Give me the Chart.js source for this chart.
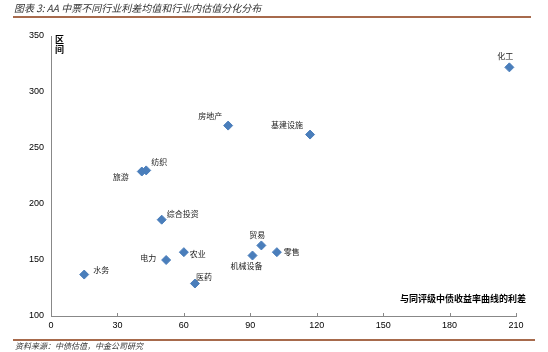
<!DOCTYPE html>
<html>
<head>
<meta charset="utf-8">
<script src="https://cdn.jsdelivr.net/npm/chart.js@4/dist/chart.umd.min.js"></script>
<style>
  html, body { margin: 0; padding: 0; background: #fff; }
  #wrap { width: 548px; height: 352px; position: relative; }
</style>
</head>
<body>
<div id="wrap"><canvas id="c" width="548" height="352"></canvas></div>
<script>
// industries and their values (x: spread vs same-rating curve, y: dispersion range)
const industries = ['水务', '旅游', '纺织', '房地产', '综合投资', '农业', '电力', '医药', '贸易', '机械设备', '基建设施', '零售', '化工'];
const spreadMean = [15, 41, 43, 80, 50, 60, 52, 65, 95, 91, 117, 102, 207];
const spreadRange = [137, 229, 230, 270, 186, 157, 150, 129, 163, 154, 262, 157, 322];

const xTicks = [0, 30, 60, 90, 120, 150, 180, 210];
const yTicks = [100, 150, 200, 250, 300, 350];

// where each label sits relative to its marker (px)
const labelOffsets = [
  [17, -5], [-21, 5], [13, -8], [-18, -10], [21, -6], [14, 2],
  [-18, -2], [9, -7], [-4, -10], [-6, 10], [-23, -10], [15, 0], [-4, -11]
];

const points = industries.map((n, i) => ({ x: spreadMean[i], y: spreadRange[i] }));

const FONT = '"Liberation Sans", Arial, sans-serif';
const CJK = '"Noto Sans CJK SC", "Noto Sans", sans-serif';

const decor = {
  id: 'decor',
  afterDatasetsDraw(chart) {
    const ctx = chart.ctx;
    const xs = chart.scales.x, ys = chart.scales.y;
    const a = chart.chartArea;
    ctx.save();

    // x tick marks pointing inward
    ctx.strokeStyle = '#888';
    ctx.lineWidth = 1;
    xTicks.forEach(v => {
      const px = Math.round(xs.getPixelForValue(v)) + 0.5;
      ctx.beginPath();
      ctx.moveTo(px, a.bottom);
      ctx.lineTo(px, a.bottom - 3);
      ctx.stroke();
    });

    // point labels
    ctx.fillStyle = '#222';
    ctx.font = '8px ' + CJK;
    ctx.textAlign = 'center';
    ctx.textBaseline = 'middle';
    const meta = chart.getDatasetMeta(0);
    meta.data.forEach((el, i) => {
      const off = labelOffsets[i];
      ctx.fillText(industries[i], el.x + off[0], el.y + off[1]);
    });

    // axis titles
    ctx.fillStyle = '#000';
    ctx.font = 'bold 9px ' + CJK;
    ctx.textAlign = 'left';
    ctx.fillText('区', a.left + 4, a.top + 4);
    ctx.fillText('间', a.left + 4, a.top + 14);
    ctx.textAlign = 'right';
    ctx.fillText('与同评级中债收益率曲线的利差', a.right + 10, a.bottom - 17);

    // title, rules and source
    ctx.textAlign = 'left';
    ctx.fillStyle = '#333';
    ctx.font = 'italic 10px ' + CJK;
    ctx.fillText('图表 3: AA 中票不同行业利差均值和行业内估值分化分布', 14, 8);
    ctx.strokeStyle = '#8B3A12';
    ctx.lineWidth = 1.5;
    ctx.beginPath();
    ctx.moveTo(13, 17); ctx.lineTo(531, 17);
    ctx.moveTo(13, 340); ctx.lineTo(535, 340);
    ctx.stroke();
    ctx.font = 'italic 8px ' + CJK;
    ctx.fillStyle = '#333';
    ctx.fillText('资料来源：中债估值，中金公司研究', 15, 346);
    ctx.restore();
  }
};

new Chart(document.getElementById('c'), {
  type: 'scatter',
  data: {
    datasets: [{
      data: points,
      pointStyle: 'rectRot',
      pointRadius: 4.5,
      pointHoverRadius: 4.5,
      backgroundColor: '#4A7EBB',
      borderColor: '#4A7EBB',
      borderWidth: 1
    }]
  },
  options: {
    responsive: false,
    animation: false,
    events: [],
    layout: { padding: { left: 0, top: 36, right: 32, bottom: 0 } },
    plugins: { legend: { display: false }, tooltip: { enabled: false } },
    scales: {
      x: {
        type: 'linear',
        min: 0, max: 210,
        afterFit(s) { s.height = 36; },
        afterBuildTicks(s) { s.ticks = xTicks.map(v => ({ value: v })); },
        grid: { display: false, drawTicks: false },
        border: { display: true, color: '#888', width: 1 },
        ticks: { color: '#000', font: { family: FONT, size: 9 }, padding: 4, maxRotation: 0 }
      },
      y: {
        type: 'linear',
        min: 100, max: 350,
        afterFit(s) { s.width = 51; },
        afterBuildTicks(s) { s.ticks = yTicks.map(v => ({ value: v })); },
        grid: { display: false, drawTicks: false },
        border: { display: true, color: '#888', width: 1 },
        ticks: { color: '#000', font: { family: FONT, size: 9 }, padding: 7 }
      }
    }
  },
  plugins: [decor]
});
</script>
</body>
</html>
